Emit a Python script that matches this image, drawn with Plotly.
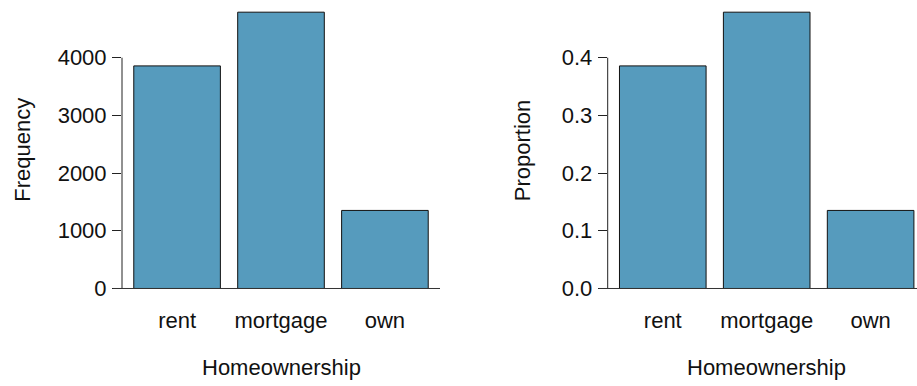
import plotly.graph_objects as go

categories = ["rent", "mortgage", "own"]
frequency = [3858, 4789, 1353]
proportion = [0.3858, 0.4789, 0.1353]
freq_ticks = [0, 1000, 2000, 3000, 4000]
prop_ticks = [0.0, 0.1, 0.2, 0.3, 0.4]
prop_ticktext = ["0.0", "0.1", "0.2", "0.3", "0.4"]

W, H = 917, 386
FONT = "Liberation Sans, Arial, Helvetica, sans-serif"
FS = 22
BAR_COLOR = "#569BBD"

def px_x(p):
    return p / W

def px_y(p):
    return 1 - p / H

fig = go.Figure()
fig.add_trace(go.Bar(x=categories, y=frequency, width=0.8333,
                     marker=dict(color=BAR_COLOR, line=dict(color="#111111", width=1)),
                     xaxis="x", yaxis="y", showlegend=False))
fig.add_trace(go.Bar(x=categories, y=proportion, width=0.8333,
                     marker=dict(color=BAR_COLOR, line=dict(color="#111111", width=1)),
                     xaxis="x2", yaxis="y2", showlegend=False))

unit = 318 / 3.06  # px per category
left_x0, left_x1 = 122, 440
right_x0 = 607.7
right_x1 = W
y_top, y_bot = 1, 301

xcommon = dict(showgrid=False, zeroline=False, showline=False, ticks="",
               tickfont=dict(family=FONT, size=FS, color="#111111"),
               ticklabelstandoff=6, fixedrange=True)
ycommon = dict(showgrid=False, zeroline=False, showline=False, ticks="outside",
               ticklen=9, tickwidth=1, tickcolor="#222222",
               tickfont=dict(family=FONT, size=FS, color="#111111"),
               ticklabelstandoff=1, fixedrange=True)

fig.update_layout(
    width=W, height=H,
    margin=dict(l=0, r=0, t=0, b=0),
    paper_bgcolor="white", plot_bgcolor="white",
    xaxis=dict(domain=[px_x(left_x0), px_x(left_x1)],
               range=[-0.53, 2.53], anchor="y", **xcommon),
    yaxis=dict(domain=[px_y(y_bot), px_y(y_top)],
               range=[(290 - y_bot) / 58 * 1000, (290 - y_top) / 58 * 1000],
               tickvals=freq_ticks, anchor="x", **ycommon),
    xaxis2=dict(domain=[px_x(right_x0), 1],
                range=[-0.53, -0.53 + (right_x1 - right_x0) / unit], anchor="y2", **xcommon),
    yaxis2=dict(domain=[px_y(y_bot), px_y(y_top)],
                range=[(290 - y_bot) / 580, (290 - y_top) / 580],
                tickvals=prop_ticks, ticktext=prop_ticktext, anchor="x2", **ycommon),
)

# y-axis lines (only between first and last tick) and baselines
line_col = "#222222"
fig.add_shape(type="line", xref="x domain", yref="y", x0=0, x1=0, y0=0, y1=4000,
              line=dict(color=line_col, width=1))
fig.add_shape(type="line", xref="x domain", yref="y", x0=-9 / 318, x1=1, y0=0, y1=0,
              line=dict(color="#333333", width=1))
fig.add_shape(type="line", xref="x2 domain", yref="y2", x0=0, x1=0, y0=0, y1=0.4,
              line=dict(color=line_col, width=1))
fig.add_shape(type="line", xref="x2 domain", yref="y2", x0=-9 / (right_x1 - right_x0), x1=1,
              y0=0, y1=0, line=dict(color="#333333", width=1))

# axis titles
tfont = dict(family=FONT, size=FS, color="#111111")
fig.add_annotation(text="Homeownership", xref="paper", yref="paper",
                   x=px_x((left_x0 + left_x1) / 2), y=px_y(369), xanchor="center", yanchor="middle",
                   showarrow=False, font=tfont)
fig.add_annotation(text="Homeownership", xref="paper", yref="paper",
                   x=px_x(right_x0 + 159), y=px_y(369), xanchor="center", yanchor="middle",
                   showarrow=False, font=tfont)
fig.add_annotation(text="Frequency", xref="paper", yref="paper",
                   x=px_x(22.5), y=px_y(151), xanchor="center", yanchor="middle",
                   textangle=-90, showarrow=False, font=tfont)
fig.add_annotation(text="Proportion", xref="paper", yref="paper",
                   x=px_x(522), y=px_y(151), xanchor="center", yanchor="middle",
                   textangle=-90, showarrow=False, font=tfont)

fig.write_html("out.html", config={"displayModeBar": False, "staticPlot": True},
               post_script="document.body.style.margin='0';document.body.style.overflow='hidden';")
